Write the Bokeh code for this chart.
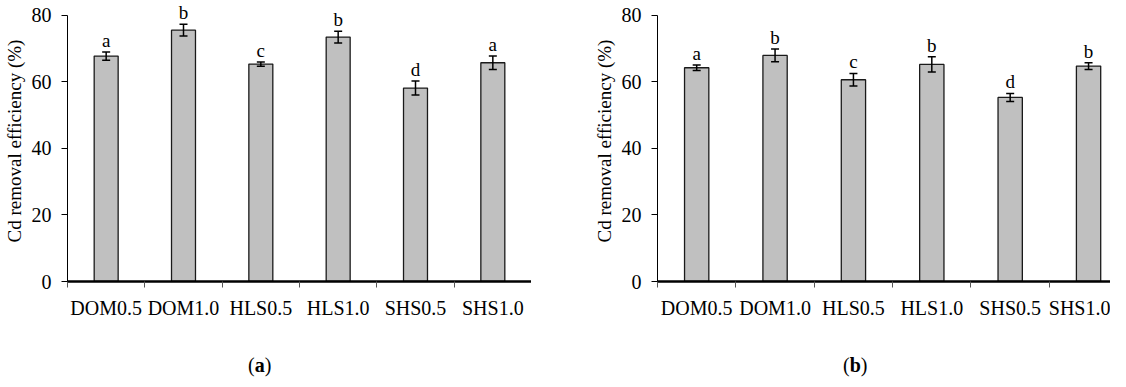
from bokeh.plotting import figure
from bokeh.models import (ColumnDataSource, Range1d, FixedTicker, Whisker, TeeHead, Div)
from bokeh.layouts import row, column
from bokeh.core.properties import value
from bokeh.embed import file_html
from bokeh.resources import INLINE

categories = ["DOM0.5", "DOM1.0", "HLS0.5", "HLS1.0", "SHS0.5", "SHS1.0"]

values_a = [67.7, 75.5, 65.3, 73.4, 58.1, 65.7]
errors_a = [1.25, 1.8, 0.65, 1.8, 2.1, 2.0]
letters_a = ["a", "b", "c", "b", "d", "a"]

values_b = [64.2, 67.9, 60.6, 65.2, 55.3, 64.7]
errors_b = [0.8, 1.9, 1.9, 2.3, 1.2, 1.0]
letters_b = ["a", "b", "c", "b", "d", "b"]

y_ticks = [0, 20, 40, 60, 80]
y_label = "Cd removal efficiency (%)"
captions = ["a", "b"]

FONT = "Liberation Serif"


def make_panel(vals, errs, letters, width, border_left, x_end):
    xs = [i + 0.5 for i in range(len(categories))]
    src = ColumnDataSource(dict(
        x=xs, v=vals,
        upper=[v + e for v, e in zip(vals, errs)],
        lower=[v - e for v, e in zip(vals, errs)],
        lab=letters,
    ))
    p = figure(width=width, height=321, output_backend="svg", toolbar_location=None,
               x_range=Range1d(0, x_end), y_range=Range1d(0, 84.4),
               min_border_left=border_left, min_border_right=0,
               min_border_top=0, min_border_bottom=40)
    p.outline_line_color = None
    p.xgrid.visible = False
    p.ygrid.visible = False
    p.background_fill_color = "white"
    p.border_fill_color = "white"

    p.vbar(x="x", top="v", width=0.31, bottom=0, source=src,
           fill_color="#c0c0c0", line_color="#1a1a1a", line_width=1.3)

    wh = Whisker(base="x", upper="upper", lower="lower", source=src,
                 line_color="black", line_width=1.5, level="annotation",
                 upper_head=TeeHead(size=8, line_width=1.5, line_color="black"),
                 lower_head=TeeHead(size=8, line_width=1.5, line_color="black"))
    p.add_layout(wh)

    p.text(x="x", y="upper", text="lab", source=src, text_align="center",
           text_baseline="bottom", y_offset=-1,
           text_font=value(FONT), text_font_size="19px", text_color="black")

    # x axis: labels at centres, ticks at category boundaries
    xa = p.xaxis[0]
    xa.ticker = FixedTicker(ticks=xs, minor_ticks=list(range(len(categories) + 1)))
    xa.major_label_overrides = {x: c for x, c in zip(xs, categories)}
    xa.major_tick_out = 0
    xa.major_tick_in = 0
    xa.minor_tick_out = 6
    xa.minor_tick_in = 0
    xa.minor_tick_line_color = "#555555"
    xa.axis_line_color = "black"
    xa.axis_line_width = 2.5
    xa.major_label_text_font = FONT
    xa.major_label_text_font_size = "20px"
    xa.major_label_text_color = "black"
    xa.major_label_standoff = 9

    ya = p.yaxis[0]
    ya.ticker = FixedTicker(ticks=y_ticks, minor_ticks=[])
    ya.bounds = (0, 80)
    ya.major_tick_out = 6
    ya.major_tick_in = 0
    ya.major_tick_line_color = "black"
    ya.axis_line_color = "black"
    ya.axis_line_width = 1
    ya.major_label_text_font = FONT
    ya.major_label_text_font_size = "20px"
    ya.major_label_text_color = "black"
    ya.major_label_standoff = 10
    ya.axis_label = y_label
    ya.axis_label_text_font = FONT
    ya.axis_label_text_font_size = "19px"
    ya.axis_label_text_font_style = "normal"
    ya.axis_label_text_color = "black"
    ya.axis_label_standoff = 4
    return p


def caption_div(letter, width, pad_left):
    html = ('<div style="padding-left:%dpx;padding-top:33px;font-family:\'%s\';'
            'font-size:20px;line-height:23px;color:black;white-space:nowrap">'
            '(<b>%s</b>)</div>' % (pad_left, FONT, letter))
    return Div(text=html, width=width, height=57, margin=(0, 0, 0, 0))


pa = make_panel(values_a, errors_a, letters_a, 531, 61, 6)
pb = make_panel(values_b, errors_b, letters_b, 579, 126, 5.78)

ca = caption_div(captions[0], 531, 248)
cb = caption_div(captions[1], 579, 312)

layout = column(row(pa, pb), row(ca, cb))
open("out.html", "w").write(file_html(layout, INLINE))
